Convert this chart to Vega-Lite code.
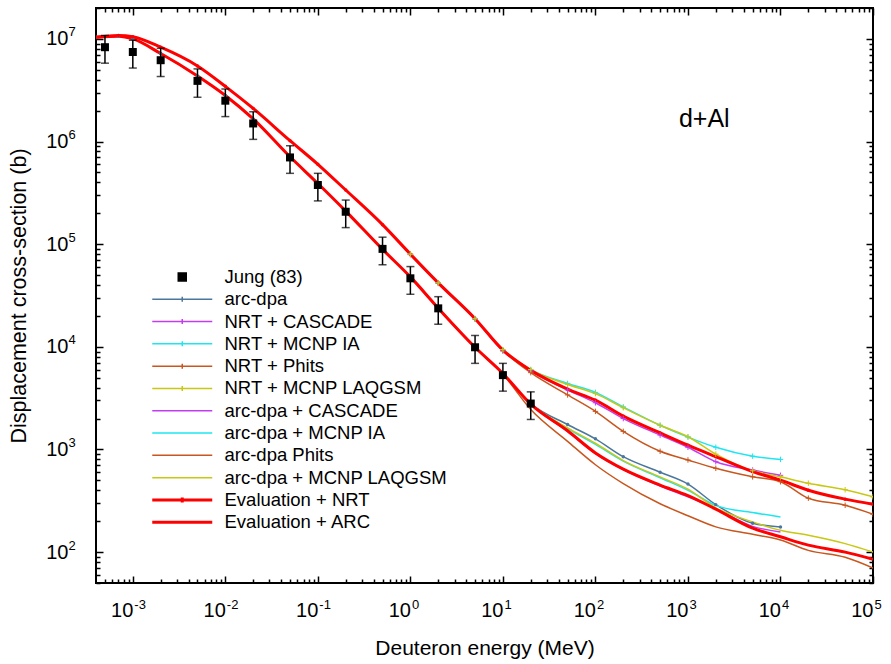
{
"$schema": "https://vega.github.io/schema/vega-lite/v6.json",
"width": 777, "height": 575,
"autosize": {"type": "none"},
"padding": {"left": 96, "top": 8, "right": 18, "bottom": 81},
"background": "white",
"config": {"font": "Liberation Sans", "view": {"stroke": "black", "strokeWidth": 2},
  "axis": {"grid": false, "domainColor": "black", "domainWidth": 2, "tickColor": "black", "tickWidth": 1.5, "labelColor": "black", "titleColor": "black", "labelFlush": false, "labelOverlap": false, "labelBound": false}},
"datasets": {
"curves": [
{"series":"arc-dpa","energy":0.0004,"xs":10400000},{"series":"arc-dpa","energy":0.0007,"xs":10600000},{"series":"arc-dpa","energy":0.001,"xs":10000000},{"series":"arc-dpa","energy":0.002,"xs":7200000},{"series":"arc-dpa","energy":0.005,"xs":4350000},{"series":"arc-dpa","energy":0.01,"xs":2810000},{"series":"arc-dpa","energy":0.02,"xs":1660000},{"series":"arc-dpa","energy":0.05,"xs":710000},{"series":"arc-dpa","energy":0.1,"xs":390000},{"series":"arc-dpa","energy":0.2,"xs":210000},{"series":"arc-dpa","energy":0.5,"xs":89000},{"series":"arc-dpa","energy":1,"xs":48000},{"series":"arc-dpa","energy":2,"xs":23800},{"series":"arc-dpa","energy":5,"xs":9900},{"series":"arc-dpa","energy":10,"xs":5500},{"series":"arc-dpa","energy":20,"xs":2800},{"series":"arc-dpa","energy":50,"xs":1750},{"series":"arc-dpa","energy":100,"xs":1270},{"series":"arc-dpa","energy":200,"xs":850},{"series":"arc-dpa","energy":500,"xs":600},{"series":"arc-dpa","energy":1000,"xs":460},{"series":"arc-dpa","energy":2000,"xs":290},{"series":"arc-dpa","energy":5000,"xs":191},{"series":"arc-dpa","energy":10000,"xs":176},
{"series":"NRT + CASCADE","energy":1,"xs":79000},{"series":"NRT + CASCADE","energy":2,"xs":41500},{"series":"NRT + CASCADE","energy":5,"xs":18600},{"series":"NRT + CASCADE","energy":10,"xs":9100},{"series":"NRT + CASCADE","energy":20,"xs":5800},{"series":"NRT + CASCADE","energy":50,"xs":3800},{"series":"NRT + CASCADE","energy":100,"xs":2850},{"series":"NRT + CASCADE","energy":200,"xs":2000},{"series":"NRT + CASCADE","energy":500,"xs":1380},{"series":"NRT + CASCADE","energy":1000,"xs":1050},{"series":"NRT + CASCADE","energy":2000,"xs":760},{"series":"NRT + CASCADE","energy":5000,"xs":630},{"series":"NRT + CASCADE","energy":10000,"xs":560},
{"series":"NRT + MCNP IA","energy":1,"xs":80000},{"series":"NRT + MCNP IA","energy":2,"xs":42000},{"series":"NRT + MCNP IA","energy":5,"xs":18800},{"series":"NRT + MCNP IA","energy":10,"xs":9300},{"series":"NRT + MCNP IA","energy":20,"xs":6000},{"series":"NRT + MCNP IA","energy":50,"xs":4400},{"series":"NRT + MCNP IA","energy":100,"xs":3600},{"series":"NRT + MCNP IA","energy":200,"xs":2600},{"series":"NRT + MCNP IA","energy":500,"xs":1720},{"series":"NRT + MCNP IA","energy":1000,"xs":1320},{"series":"NRT + MCNP IA","energy":2000,"xs":1050},{"series":"NRT + MCNP IA","energy":5000,"xs":860},{"series":"NRT + MCNP IA","energy":10000,"xs":800},
{"series":"NRT + Phits","energy":1,"xs":80000},{"series":"NRT + Phits","energy":2,"xs":42000},{"series":"NRT + Phits","energy":5,"xs":18800},{"series":"NRT + Phits","energy":10,"xs":9200},{"series":"NRT + Phits","energy":20,"xs":5600},{"series":"NRT + Phits","energy":50,"xs":3400},{"series":"NRT + Phits","energy":100,"xs":2350},{"series":"NRT + Phits","energy":200,"xs":1500},{"series":"NRT + Phits","energy":500,"xs":960},{"series":"NRT + Phits","energy":1000,"xs":790},{"series":"NRT + Phits","energy":2000,"xs":655},{"series":"NRT + Phits","energy":5000,"xs":541},{"series":"NRT + Phits","energy":10000,"xs":485},{"series":"NRT + Phits","energy":20000,"xs":335},{"series":"NRT + Phits","energy":50000,"xs":286},{"series":"NRT + Phits","energy":100000,"xs":234},
{"series":"NRT + MCNP LAQGSM","energy":1,"xs":80000},{"series":"NRT + MCNP LAQGSM","energy":2,"xs":42000},{"series":"NRT + MCNP LAQGSM","energy":5,"xs":18800},{"series":"NRT + MCNP LAQGSM","energy":10,"xs":9400},{"series":"NRT + MCNP LAQGSM","energy":20,"xs":6000},{"series":"NRT + MCNP LAQGSM","energy":50,"xs":4300},{"series":"NRT + MCNP LAQGSM","energy":100,"xs":3500},{"series":"NRT + MCNP LAQGSM","energy":200,"xs":2550},{"series":"NRT + MCNP LAQGSM","energy":500,"xs":1720},{"series":"NRT + MCNP LAQGSM","energy":1000,"xs":1330},{"series":"NRT + MCNP LAQGSM","energy":2000,"xs":900},{"series":"NRT + MCNP LAQGSM","energy":5000,"xs":620},{"series":"NRT + MCNP LAQGSM","energy":10000,"xs":541},{"series":"NRT + MCNP LAQGSM","energy":20000,"xs":469},{"series":"NRT + MCNP LAQGSM","energy":50000,"xs":405},{"series":"NRT + MCNP LAQGSM","energy":100000,"xs":345},
{"series":"arc-dpa + CASCADE","energy":1,"xs":48000},{"series":"arc-dpa + CASCADE","energy":2,"xs":23800},{"series":"arc-dpa + CASCADE","energy":5,"xs":9900},{"series":"arc-dpa + CASCADE","energy":10,"xs":5500},{"series":"arc-dpa + CASCADE","energy":20,"xs":2760},{"series":"arc-dpa + CASCADE","energy":50,"xs":1500},{"series":"arc-dpa + CASCADE","energy":100,"xs":910},{"series":"arc-dpa + CASCADE","energy":200,"xs":635},{"series":"arc-dpa + CASCADE","energy":500,"xs":440},{"series":"arc-dpa + CASCADE","energy":1000,"xs":345},{"series":"arc-dpa + CASCADE","energy":2000,"xs":265},{"series":"arc-dpa + CASCADE","energy":5000,"xs":178},{"series":"arc-dpa + CASCADE","energy":10000,"xs":157},
{"series":"arc-dpa + MCNP IA","energy":1,"xs":48000},{"series":"arc-dpa + MCNP IA","energy":2,"xs":23800},{"series":"arc-dpa + MCNP IA","energy":5,"xs":9900},{"series":"arc-dpa + MCNP IA","energy":10,"xs":5500},{"series":"arc-dpa + MCNP IA","energy":20,"xs":2780},{"series":"arc-dpa + MCNP IA","energy":50,"xs":1600},{"series":"arc-dpa + MCNP IA","energy":100,"xs":1120},{"series":"arc-dpa + MCNP IA","energy":200,"xs":770},{"series":"arc-dpa + MCNP IA","energy":500,"xs":530},{"series":"arc-dpa + MCNP IA","energy":1000,"xs":400},{"series":"arc-dpa + MCNP IA","energy":2000,"xs":285},{"series":"arc-dpa + MCNP IA","energy":5000,"xs":243},{"series":"arc-dpa + MCNP IA","energy":10000,"xs":220},
{"series":"arc-dpa Phits","energy":1,"xs":48000},{"series":"arc-dpa Phits","energy":2,"xs":23800},{"series":"arc-dpa Phits","energy":5,"xs":9800},{"series":"arc-dpa Phits","energy":10,"xs":5400},{"series":"arc-dpa Phits","energy":20,"xs":2450},{"series":"arc-dpa Phits","energy":50,"xs":1200},{"series":"arc-dpa Phits","energy":100,"xs":710},{"series":"arc-dpa Phits","energy":200,"xs":465},{"series":"arc-dpa Phits","energy":500,"xs":296},{"series":"arc-dpa Phits","energy":1000,"xs":226},{"series":"arc-dpa Phits","energy":2000,"xs":176},{"series":"arc-dpa Phits","energy":5000,"xs":149},{"series":"arc-dpa Phits","energy":10000,"xs":131},{"series":"arc-dpa Phits","energy":20000,"xs":104},{"series":"arc-dpa Phits","energy":50000,"xs":89},{"series":"arc-dpa Phits","energy":100000,"xs":70},
{"series":"arc-dpa + MCNP LAQGSM","energy":1,"xs":48000},{"series":"arc-dpa + MCNP LAQGSM","energy":2,"xs":23800},{"series":"arc-dpa + MCNP LAQGSM","energy":5,"xs":9900},{"series":"arc-dpa + MCNP LAQGSM","energy":10,"xs":5500},{"series":"arc-dpa + MCNP LAQGSM","energy":20,"xs":2780},{"series":"arc-dpa + MCNP LAQGSM","energy":50,"xs":1620},{"series":"arc-dpa + MCNP LAQGSM","energy":100,"xs":1150},{"series":"arc-dpa + MCNP LAQGSM","energy":200,"xs":780},{"series":"arc-dpa + MCNP LAQGSM","energy":500,"xs":540},{"series":"arc-dpa + MCNP LAQGSM","energy":1000,"xs":410},{"series":"arc-dpa + MCNP LAQGSM","energy":2000,"xs":270},{"series":"arc-dpa + MCNP LAQGSM","energy":5000,"xs":197},{"series":"arc-dpa + MCNP LAQGSM","energy":10000,"xs":163},{"series":"arc-dpa + MCNP LAQGSM","energy":20000,"xs":146},{"series":"arc-dpa + MCNP LAQGSM","energy":50000,"xs":121},{"series":"arc-dpa + MCNP LAQGSM","energy":100000,"xs":100},
{"series":"Evaluation + NRT","energy":0.0004,"xs":10400000},{"series":"Evaluation + NRT","energy":0.0007,"xs":10800000},{"series":"Evaluation + NRT","energy":0.001,"xs":10500000},{"series":"Evaluation + NRT","energy":0.002,"xs":8300000},{"series":"Evaluation + NRT","energy":0.005,"xs":5450000},{"series":"Evaluation + NRT","energy":0.01,"xs":3450000},{"series":"Evaluation + NRT","energy":0.02,"xs":2100000},{"series":"Evaluation + NRT","energy":0.05,"xs":1020000},{"series":"Evaluation + NRT","energy":0.1,"xs":600000},{"series":"Evaluation + NRT","energy":0.2,"xs":337000},{"series":"Evaluation + NRT","energy":0.5,"xs":155000},{"series":"Evaluation + NRT","energy":1,"xs":80000},{"series":"Evaluation + NRT","energy":2,"xs":42000},{"series":"Evaluation + NRT","energy":5,"xs":18800},{"series":"Evaluation + NRT","energy":10,"xs":9300},{"series":"Evaluation + NRT","energy":20,"xs":5900},{"series":"Evaluation + NRT","energy":50,"xs":3870},{"series":"Evaluation + NRT","energy":100,"xs":3020},{"series":"Evaluation + NRT","energy":200,"xs":2110},{"series":"Evaluation + NRT","energy":500,"xs":1450},{"series":"Evaluation + NRT","energy":1000,"xs":1100},{"series":"Evaluation + NRT","energy":2000,"xs":850},{"series":"Evaluation + NRT","energy":5000,"xs":608},{"series":"Evaluation + NRT","energy":10000,"xs":502},{"series":"Evaluation + NRT","energy":20000,"xs":401},{"series":"Evaluation + NRT","energy":50000,"xs":328},{"series":"Evaluation + NRT","energy":100000,"xs":293},
{"series":"Evaluation + ARC","energy":0.0004,"xs":10400000},{"series":"Evaluation + ARC","energy":0.0007,"xs":10600000},{"series":"Evaluation + ARC","energy":0.001,"xs":10000000},{"series":"Evaluation + ARC","energy":0.002,"xs":7200000},{"series":"Evaluation + ARC","energy":0.005,"xs":4350000},{"series":"Evaluation + ARC","energy":0.01,"xs":2810000},{"series":"Evaluation + ARC","energy":0.02,"xs":1660000},{"series":"Evaluation + ARC","energy":0.05,"xs":710000},{"series":"Evaluation + ARC","energy":0.1,"xs":390000},{"series":"Evaluation + ARC","energy":0.2,"xs":210000},{"series":"Evaluation + ARC","energy":0.5,"xs":89000},{"series":"Evaluation + ARC","energy":1,"xs":48000},{"series":"Evaluation + ARC","energy":2,"xs":23800},{"series":"Evaluation + ARC","energy":5,"xs":9900},{"series":"Evaluation + ARC","energy":10,"xs":5500},{"series":"Evaluation + ARC","energy":20,"xs":2760},{"series":"Evaluation + ARC","energy":50,"xs":1520},{"series":"Evaluation + ARC","energy":100,"xs":925},{"series":"Evaluation + ARC","energy":200,"xs":643},{"series":"Evaluation + ARC","energy":500,"xs":450},{"series":"Evaluation + ARC","energy":1000,"xs":355},{"series":"Evaluation + ARC","energy":2000,"xs":262},{"series":"Evaluation + ARC","energy":5000,"xs":171},{"series":"Evaluation + ARC","energy":10000,"xs":141},{"series":"Evaluation + ARC","energy":20000,"xs":117},{"series":"Evaluation + ARC","energy":50000,"xs":100},{"series":"Evaluation + ARC","energy":100000,"xs":85}
],
"jung": [
{"energy":0.0005,"xs":8300000,"lo":5800000,"hi":10800000},
{"energy":0.001,"xs":7450000,"lo":5200000,"hi":9700000},
{"energy":0.002,"xs":6200000,"lo":4300000,"hi":8100000},
{"energy":0.005,"xs":3900000,"lo":2700000,"hi":5100000},
{"energy":0.01,"xs":2500000,"lo":1750000,"hi":3250000},
{"energy":0.02,"xs":1500000,"lo":1050000,"hi":1950000},
{"energy":0.05,"xs":700000,"lo":490000,"hi":910000},
{"energy":0.1,"xs":377000,"lo":264000,"hi":490000},
{"energy":0.2,"xs":207000,"lo":145000,"hi":269000},
{"energy":0.5,"xs":90000,"lo":63000,"hi":117000},
{"energy":1,"xs":46500,"lo":32500,"hi":60500},
{"energy":2,"xs":23700,"lo":16600,"hi":30800},
{"energy":5,"xs":9900,"lo":6900,"hi":12900},
{"energy":10,"xs":5300,"lo":3700,"hi":6900},
{"energy":20,"xs":2800,"lo":1960,"hi":3640}
]
},
"layer": [
{
"data": {"name": "curves"},
"transform": [{"filter": "indexof(datum.series, 'Evaluation') !== 0"}],
"mark": {"type": "line", "interpolate": "monotone", "strokeWidth": 1.5, "clip": true},
"encoding": {
 "x": {"field": "energy", "type": "quantitative", "scale": {"type": "log", "domain": [0.0004, 100000]},
   "axis": {"orient": "bottom", "values": [0.001,0.01,0.1,1,10,100,1000,10000,100000], "ticks": false, "tickSize": 0, "domain": false,
     "labelExpr": "'10'", "labelAlign": "right", "labelBaseline": "top", "labelFontSize": 20, "labelPadding": 17,
     "title": "Deuteron energy (MeV)", "titleFontSize": 21, "titleFontWeight": "normal", "titlePadding": 17}},
 "y": {"field": "xs", "type": "quantitative", "scale": {"type": "log", "domain": [50, 20000000]},
   "axis": {"orient": "left", "values": [100,1000,10000,100000,1000000,10000000], "ticks": false, "tickSize": 0, "domain": false,
     "labelExpr": "'10'", "labelAlign": "right", "labelBaseline": "middle", "labelFontSize": 20, "labelPadding": 28,
     "title": "Displacement cross-section (b)", "titleFontSize": 21.5, "titleFontWeight": "normal", "titlePadding": 15}},
 "color": {"field": "series", "type": "nominal",
   "scale": {"domain": ["Jung (83)","arc-dpa","NRT + CASCADE","NRT + MCNP IA","NRT + Phits","NRT + MCNP LAQGSM","arc-dpa + CASCADE","arc-dpa + MCNP IA","arc-dpa Phits","arc-dpa + MCNP LAQGSM","Evaluation + NRT","Evaluation + ARC"],
     "range": ["#000000","#4b779c","#c23cf0","#1ee6f0","#c8561e","#c8c814","#c23cf0","#1ee6f0","#c8561e","#c8c814","#ff0000","#ff0000"]},
   "legend": {"orient": "none", "legendX": 77, "legendY": 259.7, "title": null,
     "labelFontSize": 18.5, "labelColor": "black", "labelOffset": 33, "labelLimit": 400, "rowPadding": 3.3,
     "symbolType": "M-6,0H6", "symbolSize": 100, "symbolStrokeWidth": 1.5, "symbolOpacity": 1,
     "encode": {"symbols": {"update": {
       "shape": {"signal": "datum.label === 'Jung (83)' ? 'M-0.8,-0.8H0.8V0.8H-0.8Z' : ((datum.label === 'arc-dpa' || datum.label === 'NRT + CASCADE' || datum.label === 'NRT + MCNP IA' || datum.label === 'NRT + Phits' || datum.label === 'NRT + MCNP LAQGSM' || datum.label === 'Evaluation + NRT') ? 'M-6,0H6M0,-0.5V0.5' : 'M-6,0H6')"},
       "fill": {"signal": "datum.label === 'Jung (83)' ? 'black' : 'transparent'"},
       "strokeWidth": {"signal": "(datum.label === 'Evaluation + NRT' || datum.label === 'Evaluation + ARC') ? 3 : 1.5"}}}}}}
}
},
{
"data": {"name": "curves"},
"transform": [{"filter": "indexof(datum.series, 'Evaluation') === 0"}],
"mark": {"type": "line", "interpolate": "monotone", "strokeWidth": 3, "clip": true},
"encoding": {
 "x": {"field": "energy", "type": "quantitative", "scale": {"type": "log", "domain": [0.0004, 100000]},
   "axis": {"orient": "bottom", "values": [0.0005,0.0006,0.0007,0.0008,0.0009,0.002,0.003,0.004,0.005,0.006,0.007,0.008,0.009,0.02,0.03,0.04,0.05,0.06,0.07,0.08,0.09,0.2,0.3,0.4,0.5,0.6,0.7,0.8,0.9,2,3,4,5,6,7,8,9,20,30,40,50,60,70,80,90,200,300,400,500,600,700,800,900,2000,3000,4000,5000,6000,7000,8000,9000,20000,30000,40000,50000,60000,70000,80000,90000],
     "tickSize": 4, "offset": -4, "labels": false, "domain": false, "title": null}},
 "y": {"field": "xs", "type": "quantitative", "scale": {"type": "log", "domain": [50, 20000000]},
   "axis": {"orient": "left", "values": [50,60,70,80,90,200,300,400,500,600,700,800,900,2000,3000,4000,5000,6000,7000,8000,9000,20000,30000,40000,50000,60000,70000,80000,90000,200000,300000,400000,500000,600000,700000,800000,900000,2000000,3000000,4000000,5000000,6000000,7000000,8000000,9000000,20000000],
     "tickSize": 4, "offset": -4, "labels": false, "domain": false, "title": null}},
 "color": {"field": "series", "type": "nominal"}
}
},
{
"data": {"name": "curves"},
"transform": [{"filter": "datum.series === 'Evaluation + NRT' || datum.series === 'arc-dpa'"}],
"mark": {"type": "point", "shape": "circle", "filled": true, "size": 12, "opacity": 1, "clip": true},
"encoding": {
 "x": {"field": "energy", "type": "quantitative", "scale": {"type": "log", "domain": [0.0004, 100000]},
   "axis": {"orient": "bottom", "values": [0.001,0.01,0.1,1,10,100,1000,10000,100000], "ticks": false, "tickSize": 0, "domain": false,
     "labelExpr": "'' + round(log(datum.value)/LN10)", "labelAlign": "left", "labelBaseline": "top", "labelFontSize": 13, "labelPadding": 15, "labelOffset": 1, "title": null}},
 "y": {"field": "xs", "type": "quantitative", "scale": {"type": "log", "domain": [50, 20000000]},
   "axis": {"orient": "left", "values": [100,1000,10000,100000,1000000,10000000], "ticks": false, "tickSize": 0, "domain": false,
     "labelExpr": "'' + round(log(datum.value)/LN10)", "labelAlign": "left", "labelBaseline": "middle", "labelFontSize": 13, "labelPadding": 28, "labelOffset": -7, "title": null}},
 "color": {"field": "series", "type": "nominal"}
}
},
{
"data": {"name": "curves"},
"transform": [{"filter": "indexof(datum.series, 'NRT + ') === 0"}],
"mark": {"type": "point", "shape": "M-1,0H1M0,-1V1", "filled": false, "size": 30, "strokeWidth": 1, "opacity": 1, "clip": true},
"encoding": {
 "x": {"field": "energy", "type": "quantitative", "scale": {"type": "log", "domain": [0.0004, 100000]},
   "axis": {"orient": "top", "values": [0.001,0.01,0.1,1,10,100,1000,10000,100000], "tickSize": 7, "offset": -7, "labels": false, "domain": false, "title": null}},
 "y": {"field": "xs", "type": "quantitative", "scale": {"type": "log", "domain": [50, 20000000]},
   "axis": {"orient": "right", "values": [100,1000,10000,100000,1000000,10000000], "tickSize": 7, "offset": -7, "labels": false, "domain": false, "title": null}},
 "color": {"field": "series", "type": "nominal"}
}
},
{
"data": {"name": "jung"},
"mark": {"type": "errorbar", "ticks": true, "size": 8, "thickness": 1.5, "color": "black"},
"encoding": {
 "x": {"field": "energy", "type": "quantitative", "scale": {"type": "log", "domain": [0.0004, 100000]}, "axis": null},
 "y": {"field": "lo", "type": "quantitative", "scale": {"type": "log", "domain": [50, 20000000]}, "axis": null},
 "y2": {"field": "hi"}
}
},
{
"data": {"name": "jung"},
"mark": {"type": "point", "shape": "square", "filled": true, "size": 64, "color": "black", "opacity": 1},
"encoding": {
 "x": {"field": "energy", "type": "quantitative", "scale": {"type": "log", "domain": [0.0004, 100000]},
   "axis": {"orient": "top", "values": [0.0005,0.0006,0.0007,0.0008,0.0009,0.002,0.003,0.004,0.005,0.006,0.007,0.008,0.009,0.02,0.03,0.04,0.05,0.06,0.07,0.08,0.09,0.2,0.3,0.4,0.5,0.6,0.7,0.8,0.9,2,3,4,5,6,7,8,9,20,30,40,50,60,70,80,90,200,300,400,500,600,700,800,900,2000,3000,4000,5000,6000,7000,8000,9000,20000,30000,40000,50000,60000,70000,80000,90000],
     "tickSize": 4, "offset": -4, "labels": false, "domain": false, "title": null}},
 "y": {"field": "xs", "type": "quantitative", "scale": {"type": "log", "domain": [50, 20000000]},
   "axis": {"orient": "right", "values": [50,60,70,80,90,200,300,400,500,600,700,800,900,2000,3000,4000,5000,6000,7000,8000,9000,20000,30000,40000,50000,60000,70000,80000,90000,200000,300000,400000,500000,600000,700000,800000,900000,2000000,3000000,4000000,5000000,6000000,7000000,8000000,9000000,20000000],
     "tickSize": 4, "offset": -4, "labels": false, "domain": false, "title": null}}
}
},
{
"data": {"values": [{"energy": 1500, "xs": 1670000, "label": "d+Al"}]},
"mark": {"type": "text", "fontSize": 25, "font": "Liberation Sans", "align": "center", "baseline": "middle", "color": "black"},
"encoding": {
 "x": {"field": "energy", "type": "quantitative", "scale": {"type": "log", "domain": [0.0004, 100000]},
   "axis": {"orient": "bottom", "values": [0.001,0.01,0.1,1,10,100,1000,10000,100000], "tickSize": 7, "offset": -7, "labels": false, "domain": false, "title": null}},
 "y": {"field": "xs", "type": "quantitative", "scale": {"type": "log", "domain": [50, 20000000]},
   "axis": {"orient": "left", "values": [100,1000,10000,100000,1000000,10000000], "tickSize": 7, "offset": -7, "labels": false, "domain": false, "title": null}},
 "text": {"field": "label"}
}
}
],
"resolve": {"axis": {"x": "independent", "y": "independent"}}
}
